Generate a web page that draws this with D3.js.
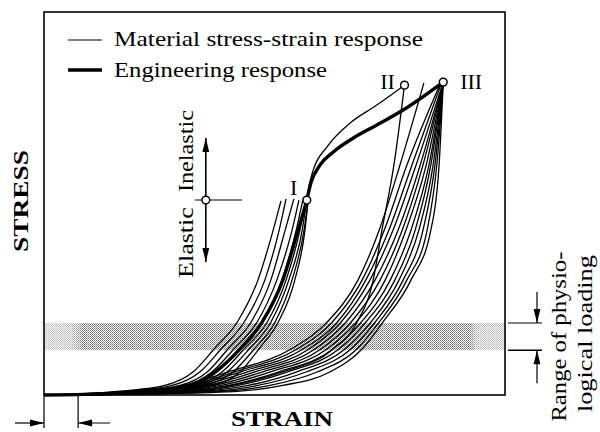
<!DOCTYPE html>
<html>
<head>
<meta charset="utf-8">
<script src="https://cdn.jsdelivr.net/npm/d3@7"></script>
<style>
  body { margin: 0; background: #fff; }
  svg { display: block; font-family: "Liberation Serif", "Times New Roman", serif; }
</style>
</head>
<body>
<div id="chart"></div>
<script>
// --- data (strain / stress in % of the frame) ---

// left bundle: strain read at these stress levels, then each curve's end point
const leftLevels = [0.3, 1, 2.5, 6, 12, 19, 30, 43];
const leftStrain = [
  [7.8, 16.5, 26.2, 32.3, 36.9, 41.9, 46.4, 49.7],
  [8.7, 18.0, 27.8, 33.8, 38.4, 43.4, 47.9, 51.0],
  [9.5, 19.5, 29.5, 35.4, 39.9, 44.9, 49.2, 52.3],
  [10.4, 20.8, 30.6, 36.4, 41.2, 46.2, 50.5, 53.8],
  [11.1, 21.9, 31.7, 37.5, 42.3, 47.3, 51.6, 54.7],
  [11.7, 23.0, 32.8, 38.6, 43.4, 48.4, 52.5, 55.5],
  [12.4, 24.1, 33.8, 39.7, 44.5, 49.2, 53.1, 56.0],
  [13.0, 25.2, 34.9, 41.0, 45.6, 50.1, 53.8, 56.4],
  [13.9, 26.5, 36.4, 42.5, 46.6, 50.8, 54.4, 56.6]
];
const leftTop = [
  [51.4, 50.7], [52.5, 51.2], [54.2, 51.2], [55.3, 50.9], [56.2, 51.2],
  [56.8, 50.9], [57.0, 50.9], [57.3, 50.7], [57.3, 50.9]
];

// right bundle: curves loaded up to II / III
const rightLevels = [0.3, 1, 2.5, 6, 12, 19, 30, 43, 60];
const rightStrain = [
  [16.5, 31.7, 40.8, 51.6, 62.7, 67.9, 71.4, 73.3, 75.9],
  [9.5, 23.0, 30.2, 39.9, 53.6, 61.4, 68.1, 72.7, 77.2],
  [10.4, 23.9, 31.5, 41.2, 54.9, 62.5, 69.0, 73.8, 78.7],
  [11.3, 24.7, 32.8, 42.5, 56.2, 63.6, 69.8, 74.8, 79.8],
  [12.1, 25.8, 34.1, 44.0, 57.5, 64.4, 70.7, 75.7, 80.7],
  [13.2, 26.9, 35.4, 45.6, 58.8, 65.5, 71.8, 76.8, 81.6],
  [14.3, 28.2, 36.9, 47.3, 60.1, 66.6, 72.9, 77.7, 82.2],
  [15.4, 29.5, 38.4, 49.0, 61.4, 67.7, 74.0, 78.5, 82.9],
  [16.5, 31.0, 40.1, 50.8, 62.7, 68.8, 75.1, 79.6, 83.5],
  [17.8, 32.8, 42.1, 52.7, 64.0, 69.8, 76.1, 80.5, 83.9],
  [19.3, 34.7, 44.3, 54.7, 65.3, 70.9, 77.0, 81.3, 84.4],
  [20.8, 36.9, 46.4, 56.8, 66.6, 71.8, 77.9, 82.2, 84.8],
  [23.0, 39.5, 49.0, 59.2, 67.9, 72.7, 78.7, 83.1, 85.2],
  [25.2, 42.5, 51.8, 62.0, 69.0, 73.5, 79.6, 83.9, 85.7]
];
const rightTop = [
  [78.2, 80.9], [82.4, 81.5], [86.1, 81.7], [86.3, 81.7], [86.6, 81.7],
  [86.6, 81.7], [86.6, 81.7], [86.6, 81.7], [86.6, 81.7], [86.6, 81.7],
  [86.6, 81.7], [86.6, 81.7], [86.6, 81.7], [86.6, 81.7]
];

// engineering response (thick)
const engStrain = [0, 12.1, 22.6, 32.1, 37.1, 42.5, 47.3, 51.8, 55.1, 57.0, 57.9, 59.9, 62.7, 67.1, 72.2, 77.9, 86.6];
const engStress = [0, 0.3, 1, 2.5, 6, 12, 19, 30, 43, 50.9, 55.4, 60.1, 63.4, 67.1, 70.5, 74.4, 81.7];

// thin branch from I to II
const branchStrain = [57.0, 57.5, 58.4, 61.4, 66.4, 72.2, 78.2];
const branchStress = [50.9, 54.6, 58.7, 64.8, 71.0, 75.7, 80.9];

const keyLabels = ['I', 'II', 'III'];
const keyStrain = [57.0, 78.2, 86.6];
const keyStress = [50.9, 80.9, 81.7];

const physioBand = [11.7, 18.8];
const toeRange = [0, 7.4];
const yieldMark = [35.1, 50.9];

// --- drawing ---
const width = 600, height = 432;
const x = d3.scaleLinear().domain([0, 100]).range([44, 505]);
const y = d3.scaleLinear().domain([0, 100]).range([395, 12]);

const svg = d3.select('#chart').append('svg')
    .attr('width', width)
    .attr('height', height);

const defs = svg.append('defs');
const pat = defs.append('pattern')
    .attr('id', 'dots')
    .attr('width', 2).attr('height', 2)
    .attr('patternUnits', 'userSpaceOnUse');
pat.append('rect').attr('width', 2).attr('height', 2).attr('fill', '#fff');
pat.append('rect').attr('x', 0).attr('y', 0).attr('width', 1).attr('height', 1).attr('fill', '#666');
pat.append('rect').attr('x', 1).attr('y', 1).attr('width', 1).attr('height', 1).attr('fill', '#999');

const fade = defs.append('linearGradient').attr('id', 'fade');
[[0, 0.5], [0.06, 0.45], [0.085, 0], [0.925, 0], [0.94, 0.45], [1, 0.45]].forEach(([o, a]) => {
    fade.append('stop').attr('offset', o).attr('stop-color', '#fff').attr('stop-opacity', a);
});

// physiological loading band
svg.append('rect')
    .attr('x', x(0)).attr('width', x(100) - x(0))
    .attr('y', y(physioBand[1])).attr('height', y(physioBand[0]) - y(physioBand[1]))
    .attr('fill', 'url(#dots)');
svg.append('rect')
    .attr('x', x(0)).attr('width', x(100) - x(0))
    .attr('y', y(physioBand[1])).attr('height', y(physioBand[0]) - y(physioBand[1]))
    .attr('fill', 'url(#fade)');

// frame
svg.append('rect')
    .attr('x', x(0)).attr('y', y(100))
    .attr('width', x(100) - x(0)).attr('height', y(0) - y(100))
    .attr('fill', 'none').attr('stroke', '#000').attr('stroke-width', 1.6);

const line = d3.line()
    .x(d => x(d[0]))
    .y(d => y(d[1]))
    .curve(d3.curveMonotoneX);

const buildCurve = (levels, strains, top) =>
    [[0, 0], ...levels.map((lv, i) => [strains[i], lv]), top];

const leftCurves = leftStrain.map((s, i) => buildCurve(leftLevels, s, leftTop[i]));
const rightCurves = rightStrain.map((s, i) => buildCurve(rightLevels, s, rightTop[i]));
const branch = branchStrain.map((s, i) => [s, branchStress[i]]);
const eng = engStrain.map((s, i) => [s, engStress[i]]);

const curves = svg.append('g')
    .attr('fill', 'none')
    .attr('stroke', '#000')
    .attr('stroke-linejoin', 'round');

curves.selectAll('path.thin')
    .data([...leftCurves, ...rightCurves, branch])
    .join('path')
    .attr('class', 'thin')
    .attr('d', line)
    .attr('stroke-width', 1.3);

curves.append('path')
    .attr('d', line(eng))
    .attr('stroke-width', 3.4);

// key points I, II, III
const labelOffset = [[-13, -5], [-17, 4], [28, 7]];
keyLabels.forEach((lab, i) => {
    const cx = x(keyStrain[i]), cy = y(keyStress[i]);
    svg.append('circle')
        .attr('cx', cx).attr('cy', cy).attr('r', 3.9)
        .attr('fill', '#fff').attr('stroke', '#000').attr('stroke-width', 1.5);
    svg.append('text')
        .attr('x', cx + labelOffset[i][0]).attr('y', cy + labelOffset[i][1])
        .attr('text-anchor', 'middle')
        .attr('font-size', 22)
        .text(lab);
});

// arrow head helper: tip at (tx,ty), pointing along (dx,dy)
function arrowHead(tx, ty, dx, dy) {
    const len = 14, half = 3.4;
    const bx = tx - dx * len, by = ty - dy * len;
    const px = -dy, py = dx;
    svg.append('path')
        .attr('d', `M${tx},${ty}L${bx + px * half},${by + py * half}L${bx - px * half},${by - py * half}Z`)
        .attr('fill', '#000');
}
function seg(x1, y1, x2, y2, w) {
    svg.append('line')
        .attr('x1', x1).attr('y1', y1).attr('x2', x2).attr('y2', y2)
        .attr('stroke', '#000').attr('stroke-width', w || 1.2);
}

// elastic / inelastic marker
const mx = x(yieldMark[0]), my = y(yieldMark[1]);
seg(mx, my - 62, mx, my + 62, 1.6);
seg(mx - 11, my, mx + 36, my, 1.1);
arrowHead(mx, my - 62, 0, -1);
arrowHead(mx, my + 62, 0, 1);
svg.append('circle')
    .attr('cx', mx).attr('cy', my).attr('r', 3.9)
    .attr('fill', '#fff').attr('stroke', '#000').attr('stroke-width', 1.5);
svg.append('text')
    .attr('transform', `translate(${mx - 13},${my - 8}) rotate(-90)`)
    .attr('font-size', 21)
    .attr('textLength', 82).attr('lengthAdjust', 'spacingAndGlyphs')
    .text('Inelastic');
svg.append('text')
    .attr('transform', `translate(${mx - 13},${my + 78}) rotate(-90)`)
    .attr('font-size', 21)
    .attr('textLength', 71).attr('lengthAdjust', 'spacingAndGlyphs')
    .text('Elastic');

// toe region markers below the frame
const t0 = x(toeRange[0]), t1 = x(toeRange[1]);
seg(t0, y(0), t0, y(0) + 33, 1.2);
seg(t1, y(0), t1, y(0) + 33, 1.2);
seg(15, y(0) + 28, t0, y(0) + 28, 1.2);
seg(t1, y(0) + 28, t1 + 32, y(0) + 28, 1.2);
arrowHead(t0, y(0) + 28, 1, 0);
arrowHead(t1, y(0) + 28, -1, 0);

// physiological range markers on the right
const b0 = y(physioBand[0]), b1 = y(physioBand[1]);
seg(x(100) + 3, b1, x(100) + 37, b1, 1.1);
seg(x(100) + 3, b0, x(100) + 37, b0, 1.6);
seg(537, b1 - 31, 537, b1, 1.2);
seg(537, b0, 537, b0 + 33, 1.2);
arrowHead(537, b1, 0, 1);
arrowHead(537, b0, 0, -1);

svg.append('text')
    .attr('transform', `translate(566,${(b0 + b1) / 2}) rotate(-90)`)
    .attr('text-anchor', 'middle')
    .attr('font-size', 21)
    .attr('textLength', 170).attr('lengthAdjust', 'spacingAndGlyphs')
    .text('Range of physio-');
svg.append('text')
    .attr('transform', `translate(592,${(b0 + b1) / 2 - 3}) rotate(-90)`)
    .attr('text-anchor', 'middle')
    .attr('font-size', 21)
    .attr('textLength', 157).attr('lengthAdjust', 'spacingAndGlyphs')
    .text('logical loading');

// axis titles
svg.append('text')
    .attr('transform', `translate(28,201) rotate(-90)`)
    .attr('text-anchor', 'middle')
    .attr('font-size', 21).attr('font-weight', 'bold')
    .attr('textLength', 102).attr('lengthAdjust', 'spacingAndGlyphs')
    .text('STRESS');
svg.append('text')
    .attr('x', 282).attr('y', 426)
    .attr('text-anchor', 'middle')
    .attr('font-size', 21).attr('font-weight', 'bold')
    .attr('textLength', 102).attr('lengthAdjust', 'spacingAndGlyphs')
    .text('STRAIN');

// legend
const legend = svg.append('g');
legend.append('line').attr('x1', 68).attr('x2', 102).attr('y1', 40).attr('y2', 40)
    .attr('stroke', '#000').attr('stroke-width', 1.1);
legend.append('line').attr('x1', 68).attr('x2', 102).attr('y1', 70).attr('y2', 70)
    .attr('stroke', '#000').attr('stroke-width', 3.6);
legend.append('text').attr('x', 114).attr('y', 46)
    .attr('font-size', 22)
    .attr('textLength', 309).attr('lengthAdjust', 'spacingAndGlyphs')
    .text('Material stress-strain response');
legend.append('text').attr('x', 114).attr('y', 77)
    .attr('font-size', 22)
    .attr('textLength', 213).attr('lengthAdjust', 'spacingAndGlyphs')
    .text('Engineering response');
</script>
</body>
</html>
